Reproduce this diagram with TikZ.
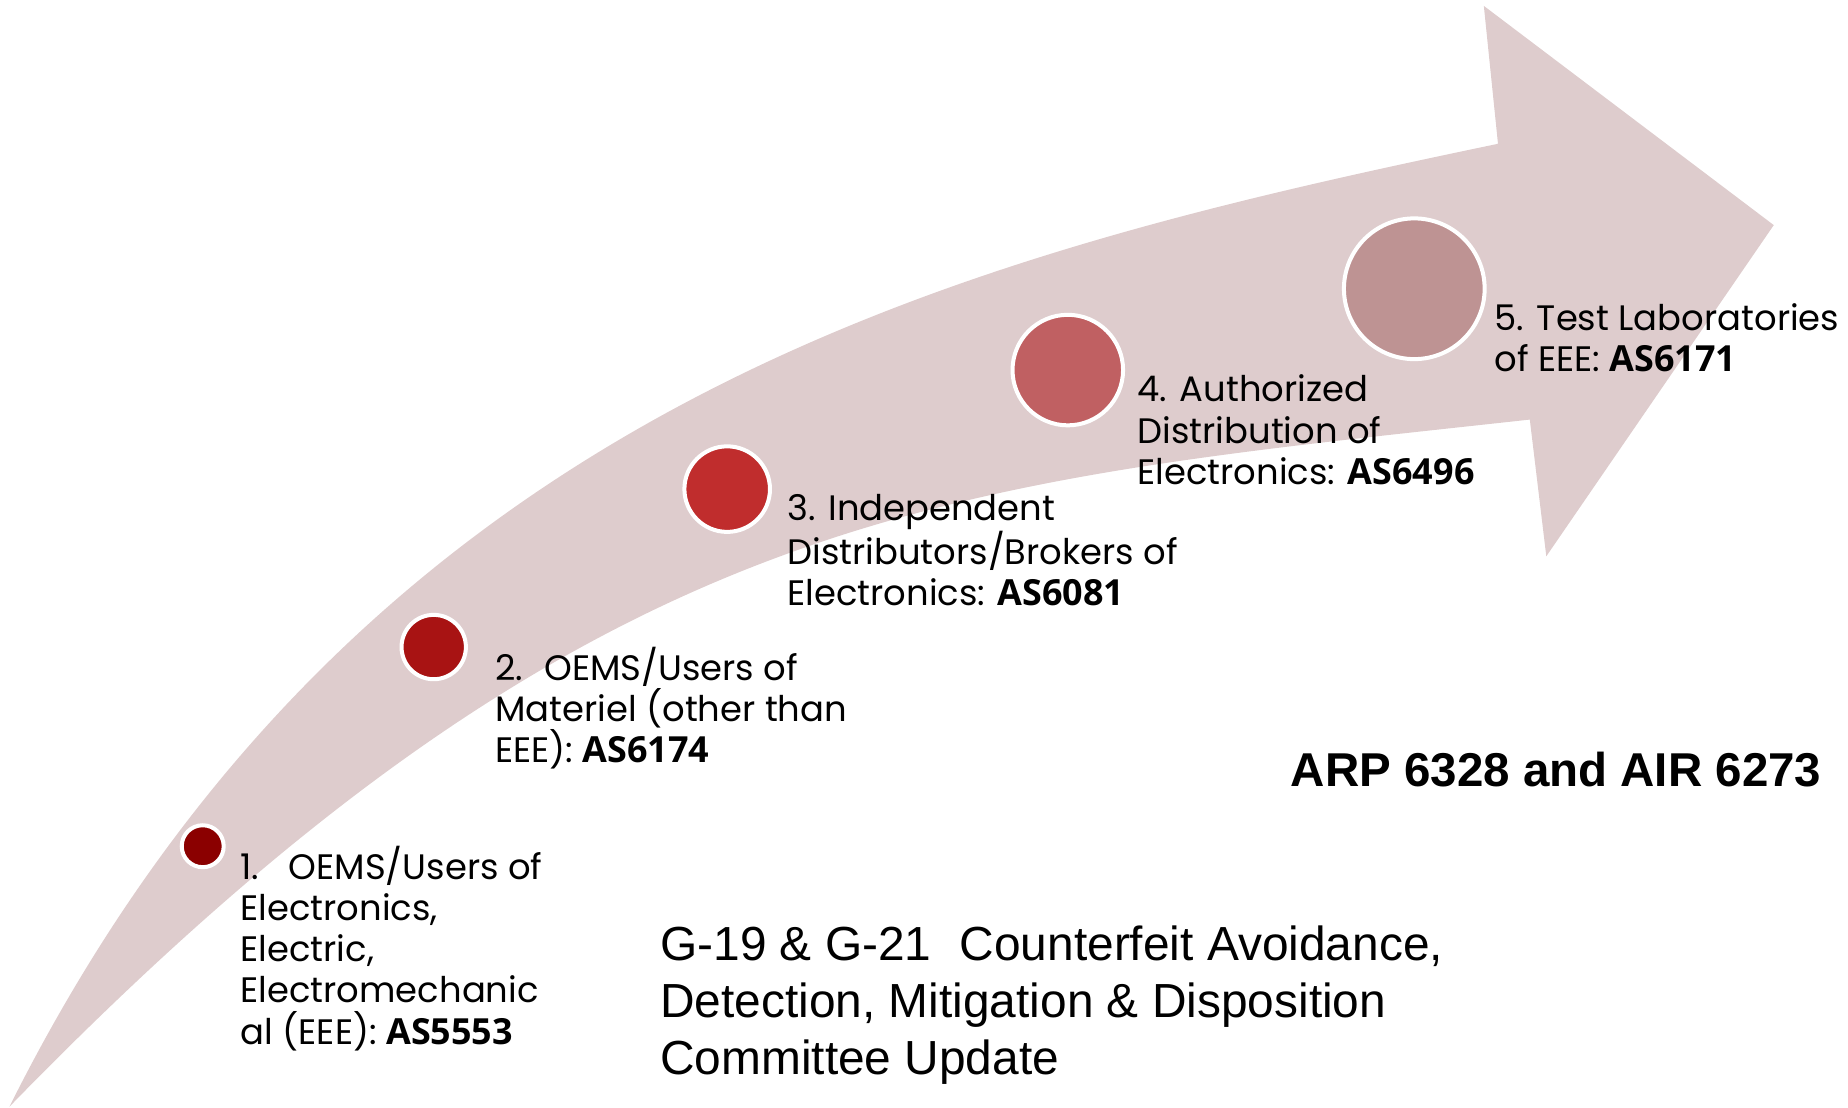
\documentclass[tikz,border=0pt]{standalone}
\usepackage{fontspec}
\setmainfont{Poppins}
\newfontfamily\codefont{Open Sans}
\newfontfamily\titlefont{Liberation Sans}

\definecolor{bandfill}{HTML}{DECCCD}
\definecolor{stageA}{HTML}{8B0000}
\definecolor{stageB}{HTML}{A81313}
\definecolor{stageC}{HTML}{C02D2D}
\definecolor{stageD}{HTML}{C06062}
\definecolor{stageE}{HTML}{BE9393}

% standard numbers in the stage labels
\newcommand\stdcode[1]{{\codefont\bfseries\fontsize{30.5}{35}\selectfont #1}}

\begin{document}
\begin{tikzpicture}[x=1pt,y=-1pt,
  dot/.style={circle, draw=white, line width=3.4pt, inner sep=0pt},
  stage/.style={anchor=base west, align=left, inner sep=0pt,
                font=\fontsize{30}{35}\selectfont},
  headline/.style={anchor=base west, align=left, inner sep=0pt,
                font=\titlefont\fontsize{40.6}{48.5}\selectfont}]
\useasboundingbox (0,0) rectangle (1568,940);

% curved arrow: upper edge, head, lower edge back to the tail point
\fill[bandfill]
  (8,939) .. controls (308,339) and (821,216) .. (1271,122)
  -- (1259,5) -- (1505,191) -- (1312,472) -- (1298,356)
  .. controls (798,411) and (508,425) .. (8,939)
  -- cycle;

% stage markers
\node[dot, fill=stageA, minimum size=35.6pt] (c1) at (172,718) {};
\node[dot, fill=stageB, minimum size=54.6pt] (c2) at (368,549) {};
\node[dot, fill=stageC, minimum size=72.6pt] (c3) at (617,415) {};
\node[dot, fill=stageD, minimum size=93.8pt] (c4) at (906,314) {};
\node[dot, fill=stageE, minimum size=119.4pt] (c5) at (1200,245) {};

% stage labels (anchored at the baseline of their last line)
\node[stage] (l1) at (204,886) {1.\hspace{25pt}OEMS/Users of\\Electronics,\\Electric,\\Electromechanic\\al (EEE): \stdcode{AS5553}};
\node[stage] (l2) at (420,647) {2.\hspace{18pt}OEMS/Users of\\Materiel (other than\\EEE): \stdcode{AS6174}};
\node[stage] (l3) at (668,514) {3. Independent\\Distributors/Brokers of\\Electronics: \stdcode{AS6081}};
\node[stage] (l4) at (965,411) {4. Authorized\\Distribution of\\Electronics: \stdcode{AS6496}};
\node[stage] (l5) at (1268,315) {5. Test Laboratories\\of EEE: \stdcode{AS6171}};

% headings
\node[headline, font=\titlefont\bfseries\fontsize{40.3}{48.5}\selectfont] (refs) at (1095,667) {ARP 6328 and AIR 6273};
\node[headline] (title) at (560,912) {G-19 \& G-21\hspace{24pt}Counterfeit Avoidance,\\Detection, Mitigation \& Disposition\\Committee Update};
\end{tikzpicture}
\end{document}
